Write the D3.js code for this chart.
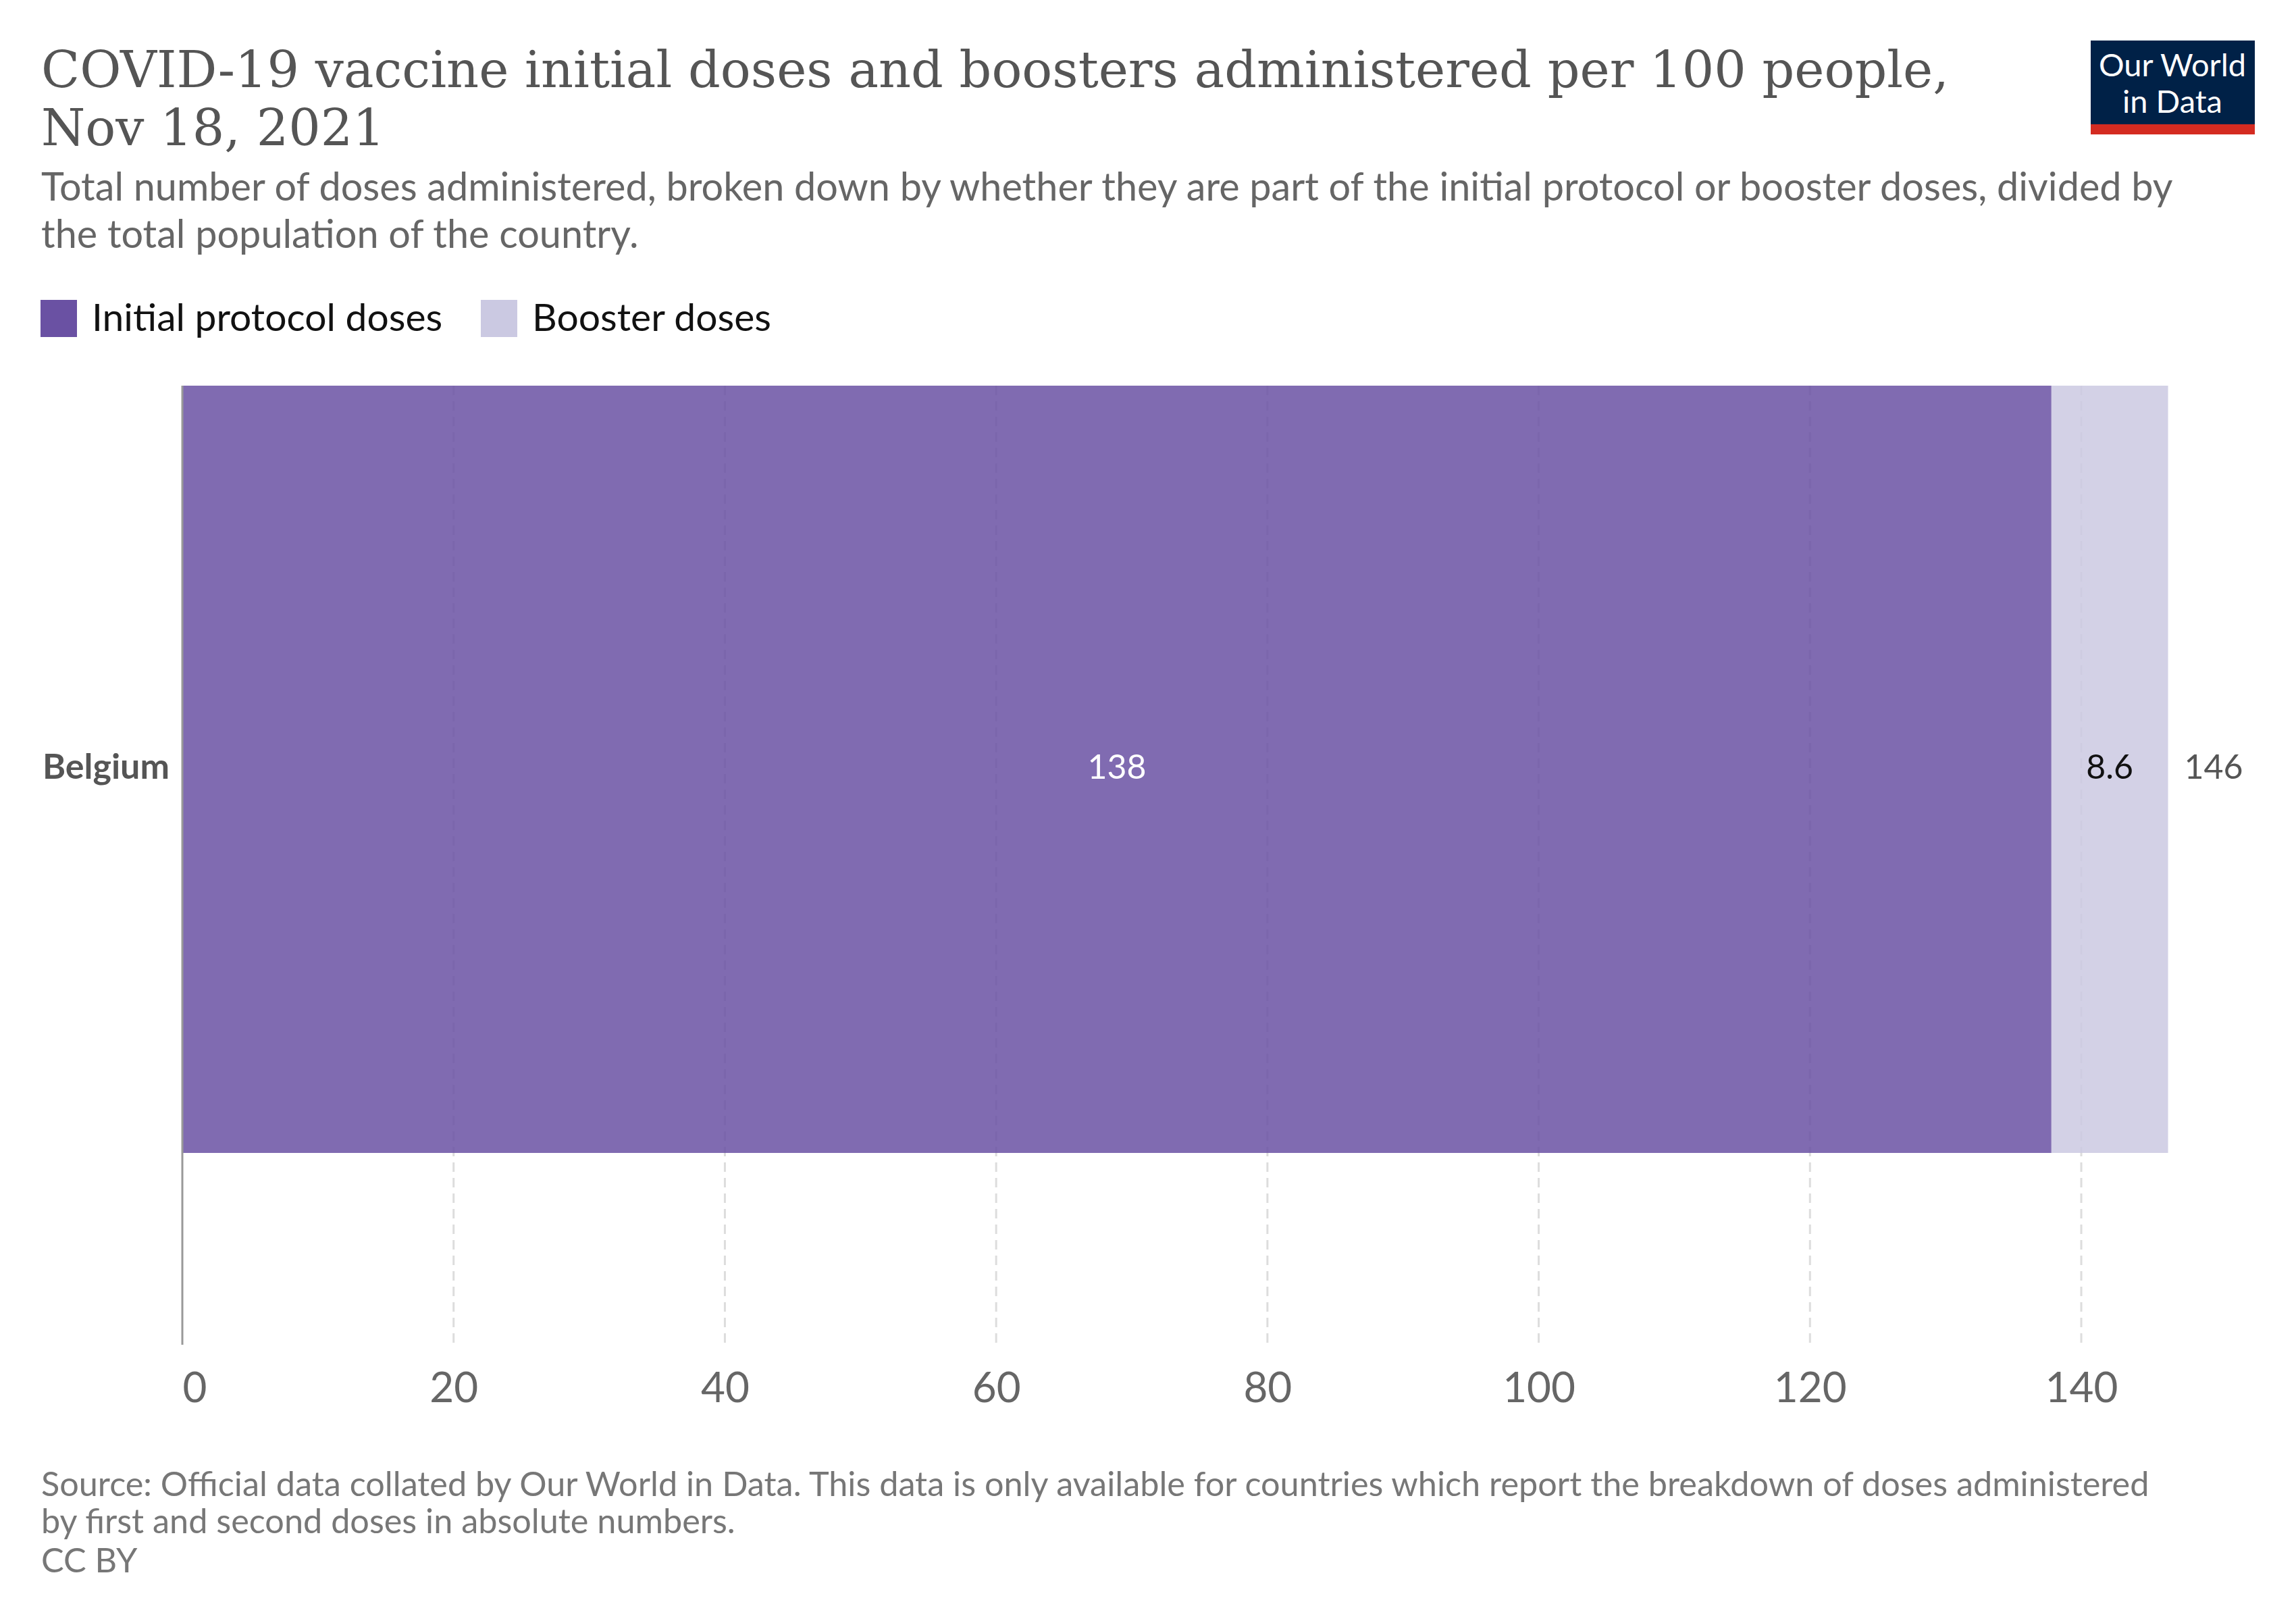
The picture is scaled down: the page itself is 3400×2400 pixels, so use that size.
<!DOCTYPE html>
<html>
<head>
<meta charset="utf-8">
<script src="https://cdn.jsdelivr.net/npm/d3@7"></script>
<style>
  body { margin: 0; background: #fff; }
  text { font-family: Lato, "Noto Sans", sans-serif; }
</style>
</head>
<body>
<div id="vis"></div>
<script>
const countries = ['Belgium'];
const initialDoses = [137.8];
const boosterDoses = [8.6];
const xTicks = [0, 20, 40, 60, 80, 100, 120, 140];
const seriesNames = ['Initial protocol doses', 'Booster doses'];
const seriesColors = ['#6a51a3', '#cbc9e2'];

const W = 3400, H = 2400;
const svg = d3.select('#vis')
    .append('svg')
    .attr('width', W)
    .attr('height', H);

// title + subtitle
const title = svg.append('text')
    .attr('x', 61)
    .attr('fill', '#555')
    .style('font-family', '"DejaVu Serif", serif')
    .style('font-size', '74.7px');
title.append('tspan').attr('x', 61).attr('y', 129)
    .text('COVID-19 vaccine initial doses and boosters administered per 100 people,');
title.append('tspan').attr('x', 61).attr('y', 215)
    .text('Nov 18, 2021');

const sub = svg.append('text')
    .attr('fill', '#666')
    .style('font-size', '57.6px');
sub.append('tspan').attr('x', 61).attr('y', 297)
    .text('Total number of doses administered, broken down by whether they are part of the initial protocol or booster doses, divided by');
sub.append('tspan').attr('x', 61).attr('y', 367)
    .text('the total population of the country.');

// logo
const logo = svg.append('g');
logo.append('rect').attr('x', 3096).attr('y', 60).attr('width', 243).attr('height', 139).attr('fill', '#002147');
logo.append('rect').attr('x', 3096).attr('y', 184).attr('width', 243).attr('height', 15).attr('fill', '#d42b21');
logo.append('text').attr('x', 3217).attr('y', 113).attr('text-anchor', 'middle')
    .attr('fill', '#fff').style('font-size', '47px').text('Our World');
logo.append('text').attr('x', 3217).attr('y', 167).attr('text-anchor', 'middle')
    .attr('fill', '#fff').style('font-size', '47px').text('in Data');

// legend
const legendX = [60, 712];
seriesNames.forEach((name, i) => {
    svg.append('rect')
        .attr('x', legendX[i]).attr('y', 444)
        .attr('width', 54).attr('height', 55)
        .attr('fill', seriesColors[i]);
    svg.append('text')
        .attr('x', legendX[i] + 76).attr('y', 490)
        .attr('fill', '#111')
        .style('font-size', '57px')
        .text(name);
});

// scales
const xScale = d3.scaleLinear()
    .domain([0, 140])
    .range([270, 3082]);

const yScale = d3.scaleBand()
    .domain(countries)
    .range([571, 1707])
    .padding(0);

const plotBottom = 1991;

// gridlines
svg.append('g')
    .selectAll('line')
    .data(xTicks.slice(1))
    .join('line')
    .attr('x1', d => xScale(d)).attr('x2', d => xScale(d))
    .attr('y1', 571).attr('y2', plotBottom)
    .attr('stroke', '#ddd')
    .attr('stroke-width', 3)
    .attr('stroke-dasharray', '14,9');

// stacked bars
const rows = countries.map((c, i) => ({
    country: c,
    initial: initialDoses[i],
    booster: boosterDoses[i],
    total: initialDoses[i] + boosterDoses[i]
}));
const fmt = d3.format('.3~r');

const bars = svg.append('g');
bars.selectAll('.initial')
    .data(rows)
    .join('rect')
    .attr('class', 'initial')
    .attr('x', xScale(0))
    .attr('y', d => yScale(d.country))
    .attr('width', d => xScale(d.initial) - xScale(0))
    .attr('height', yScale.bandwidth())
    .attr('fill', seriesColors[0])
    .attr('fill-opacity', 0.85);

bars.selectAll('.booster')
    .data(rows)
    .join('rect')
    .attr('class', 'booster')
    .attr('x', d => xScale(d.initial))
    .attr('y', d => yScale(d.country))
    .attr('width', d => xScale(d.total) - xScale(d.initial))
    .attr('height', yScale.bandwidth())
    .attr('fill', seriesColors[1])
    .attr('fill-opacity', 0.85);

// value labels
const midY = d => yScale(d.country) + yScale.bandwidth() / 2 + 14;
bars.selectAll('.lab-initial')
    .data(rows)
    .join('text')
    .attr('x', d => (xScale(0) + xScale(d.initial)) / 2)
    .attr('y', midY)
    .attr('text-anchor', 'middle')
    .attr('fill', '#fff')
    .style('font-size', '50px')
    .text(d => fmt(d.initial));

bars.selectAll('.lab-booster')
    .data(rows)
    .join('text')
    .attr('x', d => (xScale(d.initial) + xScale(d.total)) / 2)
    .attr('y', midY)
    .attr('text-anchor', 'middle')
    .attr('fill', '#111')
    .style('font-size', '50px')
    .text(d => fmt(d.booster));

bars.selectAll('.lab-total')
    .data(rows)
    .join('text')
    .attr('x', d => xScale(d.total) + 24)
    .attr('y', midY)
    .attr('fill', '#555')
    .style('font-size', '50px')
    .text(d => fmt(d.total));

// country labels
svg.append('g')
    .selectAll('text')
    .data(countries)
    .join('text')
    .attr('x', 251)
    .attr('y', d => yScale(d) + yScale.bandwidth() / 2 + 14)
    .attr('text-anchor', 'end')
    .attr('fill', '#555')
    .style('font-weight', 'bold')
    .style('font-size', '52px')
    .text(d => d);

// vertical axis line
svg.append('line')
    .attr('x1', xScale(0)).attr('x2', xScale(0))
    .attr('y1', 571).attr('y2', plotBottom)
    .attr('stroke', '#999')
    .attr('stroke-width', 3);

// x axis
const xAxis = d3.axisBottom(xScale)
    .tickValues(xTicks)
    .tickSize(0)
    .tickPadding(0);
const gx = svg.append('g')
    .attr('transform', `translate(0,${plotBottom})`)
    .call(xAxis);
gx.select('.domain').remove();
gx.selectAll('text')
    .attr('y', 85)
    .attr('dy', 0)
    .attr('fill', '#666')
    .style('font-family', 'Lato, sans-serif')
    .style('font-size', '62px');
gx.selectAll('.tick').filter(d => d === 0).select('text')
    .attr('text-anchor', 'start');

// footer
const foot = svg.append('text')
    .attr('fill', '#777')
    .style('font-size', '50.4px');
foot.append('tspan').attr('x', 61).attr('y', 2215)
    .text('Source: Official data collated by Our World in Data. This data is only available for countries which report the breakdown of doses administered');
foot.append('tspan').attr('x', 61).attr('y', 2270)
    .text('by first and second doses in absolute numbers.');
foot.append('tspan').attr('x', 61).attr('y', 2328)
    .text('CC BY');
</script>
</body>
</html>
